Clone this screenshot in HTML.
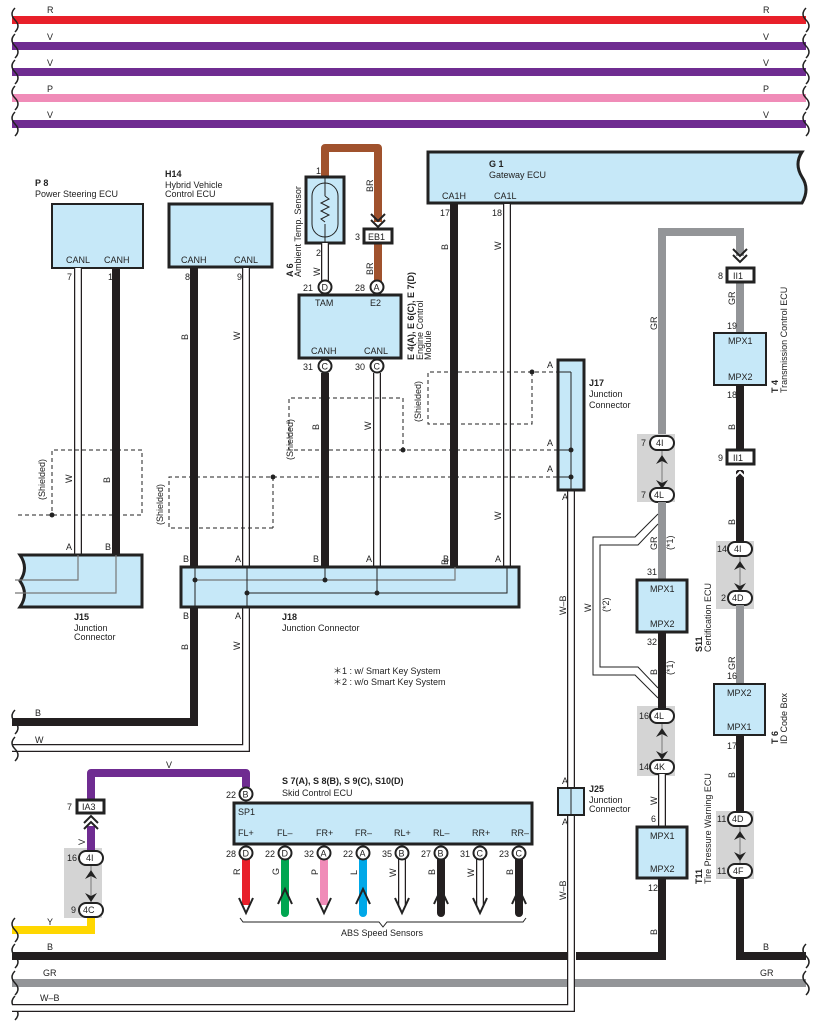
<!DOCTYPE html>
<html><head><meta charset="utf-8"><style>
html,body{margin:0;padding:0;background:#fff}
svg{display:block}
text{font-family:"Liberation Sans",sans-serif;font-size:9px;fill:#222}
.b{font-weight:bold}
.box{fill:#c6e8f8;stroke:#222;stroke-width:3}
.tb{fill:#c6e8f8;stroke:#222;stroke-width:2}
.pc{fill:#fff;stroke:#222;stroke-width:2}
.cap{fill:#fff;stroke:#222;stroke-width:2}
.gb{fill:#d4d4d4}
.dash{fill:none;stroke:#222;stroke-width:1;stroke-dasharray:4,3}
.blk{fill:none;stroke:#231f20;stroke-width:8}
.gr{fill:none;stroke:#939598;stroke-width:8}
.wo{fill:none;stroke:#231f20;stroke-width:8}
.wi{fill:none;stroke:#fff;stroke-width:5.5}
.sq{fill:none;stroke:#222;stroke-width:1.5}
</style></head><body>
<svg width="818" height="1030" viewBox="0 0 818 1030" xmlns="http://www.w3.org/2000/svg">
<!-- top buses -->
<line x1="12" y1="20" x2="806" y2="20" stroke="#e8202a" stroke-width="8"/>
<line x1="12" y1="46" x2="806" y2="46" stroke="#6f2c91" stroke-width="8"/>
<line x1="12" y1="72" x2="806" y2="72" stroke="#6f2c91" stroke-width="8"/>
<line x1="12" y1="98" x2="806" y2="98" stroke="#f08cb8" stroke-width="8"/>
<line x1="12" y1="124" x2="806" y2="124" stroke="#6f2c91" stroke-width="8"/>
<text x="47" y="13">R</text><text x="763" y="13">R</text>
<text x="47" y="40">V</text><text x="763" y="40">V</text>
<text x="47" y="66">V</text><text x="763" y="66">V</text>
<text x="47" y="92">P</text><text x="763" y="92">P</text>
<text x="47" y="118">V</text><text x="763" y="118">V</text>
<g class="sq">
<path d="M15,8 q-6,6 0,12 q6,6 0,12 M15,34 q-6,6 0,12 q6,6 0,12 M15,60 q-6,6 0,12 q6,6 0,12 M15,86 q-6,6 0,12 q6,6 0,12 M15,112 q-6,6 0,12 q6,6 0,12"/>
<path d="M806,8 q-6,6 0,12 q6,6 0,12 M806,34 q-6,6 0,12 q6,6 0,12 M806,60 q-6,6 0,12 q6,6 0,12 M806,86 q-6,6 0,12 q6,6 0,12 M806,112 q-6,6 0,12 q6,6 0,12"/>
</g>

<!-- bottom buses -->
<path class="blk" d="M12,956 L568,956"/>
<path class="blk" d="M576,956 L662,956 L662,878"/>
<path class="blk" d="M806,956 L740,956 L740,871"/>
<line x1="12" y1="983" x2="806" y2="983" stroke="#939598" stroke-width="8"/>
<text x="47" y="950">B</text><text x="763" y="950">B</text>
<text x="43" y="976">GR</text><text x="760" y="976">GR</text>
<text x="40" y="1001">W–B</text>
<path d="M12,930 L91,930 L91,912" fill="none" stroke="#ffd700" stroke-width="8"/>
<text x="47" y="925">Y</text>
<g class="sq">
<path d="M15,918 q-6,6 0,12 q6,6 0,12 M15,944 q-6,6 0,12 q6,6 0,12 M15,971 q-6,6 0,12 q6,6 0,12 M15,996 q-6,6 0,12 q6,6 0,12"/>
<path d="M806,944 q-6,6 0,12 q6,6 0,12 M806,971 q-6,6 0,12 q6,6 0,12"/>
</g>

<!-- W-B from J17 -->
<path class="wo" d="M571,490 L571,1008 L12,1008"/>
<path class="wi" d="M571,490 L571,1008 L12,1008"/>
<text transform="translate(566,615) rotate(-90)">W–B</text>
<text transform="translate(566,900) rotate(-90)">W–B</text>

<!-- P8 -->
<text class="b" x="35" y="186">P 8</text>
<text x="35" y="197">Power Steering ECU</text>
<rect class="tb" x="52" y="204" width="91" height="64"/>
<text x="66" y="263">CANL</text><text x="104" y="263">CANH</text>
<text x="67" y="280">7</text><text x="108" y="280">1</text>
<path class="wo" d="M78,268 L78,556"/><path class="wi" d="M78,268 L78,556"/>
<path class="blk" d="M116,268 L116,556"/>
<text transform="translate(72,483) rotate(-90)">W</text>
<text transform="translate(110,483) rotate(-90)">B</text>

<!-- H14 -->
<text class="b" x="165" y="177">H14</text>
<text x="165" y="188">Hybrid Vehicle</text>
<text x="165" y="197">Control ECU</text>
<rect class="box" x="169" y="204" width="103" height="63"/>
<text x="181" y="263">CANH</text><text x="234" y="263">CANL</text>
<text x="185" y="280">8</text><text x="237" y="280">9</text>
<path class="blk" d="M194,268 L194,722 L12,722"/>
<path class="wo" d="M246,268 L246,748 L12,748"/><path class="wi" d="M246,268 L246,748 L12,748"/>
<text transform="translate(188,340) rotate(-90)">B</text>
<text transform="translate(240,340) rotate(-90)">W</text>
<text transform="translate(188,650) rotate(-90)">B</text>
<text transform="translate(240,650) rotate(-90)">W</text>
<text x="35" y="716">B</text><text x="35" y="743">W</text>
<g class="sq"><path d="M15,710 q-6,6 0,12 q6,6 0,12 M15,737 q-6,6 0,12 q6,6 0,12"/></g>

<!-- A6 sensor -->
<path d="M325,196 L325,148 L378,148 L378,222" fill="none" stroke="#a0522d" stroke-width="8" stroke-linejoin="round"/>
<path d="M378,243 L378,282" fill="none" stroke="#a0522d" stroke-width="8"/>
<path d="M371,214 l7,7 l7,-7 M371,220 l7,7 l7,-7" fill="none" stroke="#222" stroke-width="2"/>
<rect x="364" y="229" width="28" height="14" fill="#fff" stroke="#222" stroke-width="3"/>
<text x="368" y="240">EB1</text><text x="355" y="240">3</text>
<text transform="translate(373,192) rotate(-90)">BR</text>
<text transform="translate(373,275) rotate(-90)">BR</text>
<rect class="box" x="306" y="177" width="38" height="66"/>
<rect x="312" y="183" width="26" height="54" rx="13" fill="none" stroke="#222" stroke-width="1"/>
<line x1="325" y1="177" x2="325" y2="196" stroke="#222"/>
<line x1="325" y1="224" x2="325" y2="243" stroke="#222"/>
<path d="M325,196 l4,3 l-8,4 l8,4 l-8,4 l8,4 l-8,4 l4,3" fill="none" stroke="#222" stroke-width="1"/>
<text x="316" y="174">1</text><text x="316" y="256">2</text>
<path class="wo" d="M325,243 L325,282"/><path class="wi" d="M325,243 L325,282"/>
<text transform="translate(320,276) rotate(-90)">W</text>
<text class="b" transform="translate(293,277) rotate(-90)">A 6</text>
<text transform="translate(301,277) rotate(-90)">Ambient Temp.   Sensor</text>

<!-- ECM -->
<rect class="box" x="299" y="295" width="102" height="63"/>
<circle class="pc" cx="325" cy="287" r="6.5"/><text x="321.5" y="290.5">D</text>
<circle class="pc" cx="377" cy="287" r="6.5"/><text x="373.5" y="290.5">A</text>
<text x="303" y="291">21</text><text x="355" y="291">28</text>
<text x="315" y="306">TAM</text><text x="370" y="306">E2</text>
<text x="311" y="354">CANH</text><text x="364" y="354">CANL</text>
<path class="blk" d="M325,373 L325,570"/>
<path class="wo" d="M377,373 L377,570"/><path class="wi" d="M377,373 L377,570"/>
<circle class="pc" cx="325" cy="366" r="6.5"/><text x="321.5" y="369.5">C</text>
<circle class="pc" cx="377" cy="366" r="6.5"/><text x="373.5" y="369.5">C</text>
<text x="303" y="370">31</text><text x="355" y="370">30</text>
<text transform="translate(319,430) rotate(-90)">B</text>
<text transform="translate(371,430) rotate(-90)">W</text>
<text class="b" transform="translate(414,360) rotate(-90)">E 4(A), E 6(C), E 7(D)</text>
<text transform="translate(423,360) rotate(-90)">Engine Control</text>
<text transform="translate(431,360) rotate(-90)">Module</text>

<!-- Gateway -->
<path class="box" d="M428,152 L802,152 q-8,12 0,25 q8,12 0,26 L428,203 Z"/>
<text class="b" x="489" y="167">G 1</text>
<text x="489" y="178">Gateway ECU</text>
<text x="442" y="199">CA1H</text><text x="494" y="199">CA1L</text>
<text x="440" y="216">17</text><text x="492" y="216">18</text>
<path class="blk" d="M454,204 L454,570"/>
<path class="wo" d="M507,204 L507,570"/><path class="wi" d="M507,204 L507,570"/>
<text transform="translate(448,250) rotate(-90)">B</text>
<text transform="translate(501,250) rotate(-90)">W</text>
<text transform="translate(448,565) rotate(-90)">B</text>
<text transform="translate(501,520) rotate(-90)">W</text>

<!-- shields -->
<path class="dash" d="M18,515 L142,515 L142,450 L52,450 L52,515"/>
<circle cx="52" cy="515" r="2.5" fill="#222"/>
<text transform="translate(45,500) rotate(-90)">(Shielded)</text>
<path class="dash" d="M273,528 L169,528 L169,477 L565,477"/>
<path class="dash" d="M273,477 L273,528"/>
<circle cx="273" cy="477" r="2.5" fill="#222"/>
<text transform="translate(163,525) rotate(-90)">(Shielded)</text>
<path class="dash" d="M403,450 L289,450 L289,398 L403,398 L403,450 L565,450"/>
<circle cx="403" cy="450" r="2.5" fill="#222"/>
<text transform="translate(293,460) rotate(-90)">(Shielded)</text>
<path class="dash" d="M532,372 L532,424 L428,424 L428,372 L565,372"/>
<circle cx="532" cy="372" r="2.5" fill="#222"/>
<text transform="translate(421,422) rotate(-90)">(Shielded)</text>

<!-- J17 -->
<rect class="box" x="558" y="360" width="26" height="130"/>
<line x1="571" y1="372" x2="571" y2="490" stroke="#222"/>
<line x1="558" y1="372" x2="571" y2="372" stroke="#222"/>
<circle cx="571" cy="450" r="2.5" fill="#222"/><circle cx="571" cy="477" r="2.5" fill="#222"/>
<line x1="558" y1="450" x2="571" y2="450" stroke="#222"/><line x1="558" y1="477" x2="571" y2="477" stroke="#222"/>
<text x="547" y="368">A</text><text x="547" y="446">A</text><text x="547" y="472">A</text><text x="562" y="500">A</text>
<text class="b" x="589" y="386">J17</text><text x="589" y="397">Junction</text><text x="589" y="408">Connector</text>

<!-- J25 -->
<rect class="tb" x="558" y="788" width="26" height="27"/>
<line x1="571" y1="788" x2="571" y2="815" stroke="#222"/>
<text x="562" y="784">A</text><text x="562" y="825">A</text>
<text class="b" x="589" y="792">J25</text><text x="589" y="803">Junction</text><text x="589" y="812">Connector</text>

<!-- J15 -->
<path class="box" d="M20,555 L142,555 L142,607 L20,607 q9,-13 0,-26 q9,-13 0,-26 Z"/>
<path d="M78,555 L78,580 L15,580 M116,555 L116,593 L15,593" fill="none" stroke="#777" stroke-width="1.2"/>
<text x="66" y="550">A</text><text x="105" y="550">B</text>
<text class="b" x="74" y="620">J15</text><text x="74" y="631">Junction</text><text x="74" y="640">Connector</text>

<!-- J18 -->
<rect class="box" x="181" y="567" width="338" height="40"/>
<path d="M195,580 L455,580 L455,567" fill="none" stroke="#777" stroke-width="1.2"/>
<path d="M247,593 L507,593 L507,567" fill="none" stroke="#222" stroke-width="1"/>
<line x1="195" y1="567" x2="195" y2="607" stroke="#222"/>
<line x1="247" y1="567" x2="247" y2="607" stroke="#222"/>
<line x1="325" y1="567" x2="325" y2="580" stroke="#222"/>
<line x1="377" y1="567" x2="377" y2="593" stroke="#222"/>
<circle cx="195" cy="580" r="2.5" fill="#222"/><circle cx="325" cy="580" r="2.5" fill="#222"/>
<circle cx="247" cy="593" r="2.5" fill="#222"/><circle cx="377" cy="593" r="2.5" fill="#222"/>
<text x="183" y="562">B</text><text x="235" y="562">A</text><text x="313" y="562">B</text><text x="366" y="562">A</text><text x="443" y="562">B</text><text x="495" y="562">A</text>
<text x="183" y="619">B</text><text x="235" y="619">A</text>
<text class="b" x="282" y="620">J18</text><text x="282" y="631">Junction Connector</text>
<text x="333" y="674">＊1 : w/ Smart Key System</text>
<text x="333" y="685">＊2 : w/o Smart Key System</text>

<!-- GR left chain -->
<path class="gr" d="M662,443 L662,232 L740,232 L740,256"/>
<path class="gr" d="M740,282 L740,333"/>
<path d="M733,249 l7,7 l7,-7 M733,255 l7,7 l7,-7" fill="none" stroke="#222" stroke-width="2"/>
<rect x="727" y="268" width="27" height="14" fill="#fff" stroke="#222" stroke-width="3"/>
<text x="733" y="279" fill="#777">II1</text><text x="718" y="279">8</text>
<text transform="translate(657,330) rotate(-90)">GR</text>
<text transform="translate(735,305) rotate(-90)">GR</text>
<text x="727" y="329">19</text>
<rect class="tb" x="714" y="333" width="52" height="52"/>
<text x="728" y="344">MPX1</text><text x="728" y="380">MPX2</text>
<text x="727" y="398">18</text>
<path class="blk" d="M740,385 L740,450"/>
<path class="blk" d="M740,470 L740,543"/>
<path d="M733,473 l7,-7 l7,7 M733,479 l7,-7 l7,7" fill="none" stroke="#fff" stroke-width="2"/>
<rect x="727" y="450" width="27" height="14" fill="#fff" stroke="#222" stroke-width="3"/>
<text x="733" y="461" fill="#777">II1</text><text x="718" y="461">9</text>
<text transform="translate(735,430) rotate(-90)">B</text>
<text transform="translate(735,525) rotate(-90)">B</text>
<text class="b" transform="translate(778,393) rotate(-90)">T 4</text>
<text transform="translate(787,393) rotate(-90)">Transmission Control ECU</text>

<!-- inline connector groups -->
<g>
<rect class="gb" x="637" y="434" width="38" height="68"/>
<rect class="gb" x="716" y="541" width="38" height="68"/>
<rect class="gb" x="637" y="706" width="38" height="70"/>
<rect class="gb" x="716" y="811" width="38" height="68"/>
<rect class="gb" x="64" y="848" width="38" height="70"/>
</g>
<!-- capsules and arrows -->
<g id="c1">
<line x1="662" y1="450" x2="662" y2="488" stroke="#777" stroke-width="1"/>
<path d="M656,464 l6,-9 l6,9 l-6,-3 Z M656,480 l6,9 l6,-9 l-6,3 Z" fill="#222"/>
<rect class="cap" x="650" y="436" width="24" height="14" rx="7"/><text x="656" y="446">4I</text>
<rect class="cap" x="650" y="488" width="24" height="14" rx="7"/><text x="654" y="498">4L</text>
<text x="641" y="446">7</text><text x="641" y="498">7</text>
</g>
<path class="gr" d="M662,502 L662,580"/>
<text x="647" y="575">31</text>
<rect class="box" x="637" y="580" width="50" height="52"/>
<text x="650" y="592">MPX1</text><text x="650" y="627">MPX2</text>
<text x="647" y="645">32</text>
<path class="blk" d="M662,632 L662,709"/>
<!-- bypass *2 -->
<path d="M658,514 L635,537 L593,537 L593,675 L635,675 L658,698" fill="none" stroke="#222" stroke-width="1"/>
<path d="M658,524 L638,545 L600,545 L600,667 L638,667 L658,688" fill="none" stroke="#222" stroke-width="1"/>
<text transform="translate(657,550) rotate(-90)">GR</text>
<text transform="translate(673,550) rotate(-90)">(*1)</text>
<text transform="translate(591,612) rotate(-90)">W</text>
<text transform="translate(609,612) rotate(-90)">(*2)</text>
<text transform="translate(657,675) rotate(-90)">B</text>
<text transform="translate(673,675) rotate(-90)">(*1)</text>
<text class="b" transform="translate(702,652) rotate(-90)">S11</text>
<text transform="translate(711,652) rotate(-90)">Certification ECU</text>

<line x1="662" y1="723" x2="662" y2="760" stroke="#777" stroke-width="1"/>
<path d="M656,737 l6,-9 l6,9 l-6,-3 Z M656,751 l6,9 l6,-9 l-6,3 Z" fill="#222"/>
<rect class="cap" x="650" y="709" width="24" height="14" rx="7"/><text x="654" y="719">4L</text>
<rect class="cap" x="650" y="760" width="24" height="14" rx="7"/><text x="654" y="770">4K</text>
<text x="639" y="719">16</text><text x="639" y="770">14</text>
<path class="wo" d="M662,774 L662,826"/><path class="wi" d="M662,774 L662,826"/>
<text transform="translate(657,805) rotate(-90)">W</text>
<text x="651" y="822">6</text>
<rect class="box" x="637" y="827" width="50" height="51"/>
<text x="650" y="839">MPX1</text><text x="650" y="872">MPX2</text>
<text x="648" y="891">12</text>
<text transform="translate(657,935) rotate(-90)">B</text>
<text class="b" transform="translate(702,884) rotate(-90)">T11</text>
<text transform="translate(711,884) rotate(-90)">Tire Pressure Warning ECU</text>

<!-- right chain lower -->
<line x1="740" y1="556" x2="740" y2="591" stroke="#777" stroke-width="1"/>
<path d="M734,570 l6,-9 l6,9 l-6,-3 Z M734,583 l6,9 l6,-9 l-6,3 Z" fill="#222"/>
<rect class="cap" x="728" y="542" width="24" height="14" rx="7"/><text x="734" y="552">4I</text>
<rect class="cap" x="728" y="591" width="24" height="14" rx="7"/><text x="732" y="601">4D</text>
<text x="717" y="552">14</text><text x="721" y="601">2</text>
<path class="gr" d="M740,605 L740,683"/>
<text transform="translate(735,670) rotate(-90)">GR</text>
<text x="727" y="679">16</text>
<rect class="tb" x="714" y="684" width="51" height="51"/>
<text x="727" y="696">MPX2</text><text x="727" y="730">MPX1</text>
<text x="727" y="749">17</text>
<path class="blk" d="M740,735 L740,813"/>
<text transform="translate(735,778) rotate(-90)">B</text>
<text class="b" transform="translate(778,744) rotate(-90)">T 6</text>
<text transform="translate(787,744) rotate(-90)">ID Code Box</text>
<line x1="740" y1="826" x2="740" y2="864" stroke="#777" stroke-width="1"/>
<path d="M734,840 l6,-9 l6,9 l-6,-3 Z M734,852 l6,9 l6,-9 l-6,3 Z" fill="#222"/>
<rect class="cap" x="728" y="812" width="24" height="14" rx="7"/><text x="732" y="822">4D</text>
<rect class="cap" x="728" y="864" width="24" height="14" rx="7"/><text x="733" y="874">4F</text>
<text x="717" y="822">11</text><text x="717" y="874">11</text>

<!-- V wire to skid ECU -->
<path d="M246,787 L246,773 L91,773 L91,800" fill="none" stroke="#6f2c91" stroke-width="8" stroke-linejoin="round"/>
<path d="M91,826 L91,851" fill="none" stroke="#6f2c91" stroke-width="8"/>
<path d="M84,829 l7,-7 l7,7 M84,823 l7,-7 l7,7" fill="none" stroke="#222" stroke-width="2"/>
<text x="166" y="768">V</text>
<text transform="translate(85,845) rotate(-90)">V</text>
<rect x="77" y="800" width="27" height="13" fill="#fff" stroke="#222" stroke-width="3"/>
<text x="82" y="810">IA3</text><text x="67" y="810">7</text>
<line x1="91" y1="865" x2="91" y2="903" stroke="#777" stroke-width="1"/>
<path d="M85,879 l6,-9 l6,9 l-6,-3 Z M85,893 l6,9 l6,-9 l-6,3 Z" fill="#222"/>
<rect class="cap" x="79" y="851" width="24" height="14" rx="7"/><text x="86" y="861">4I</text>
<rect class="cap" x="79" y="903" width="24" height="14" rx="7"/><text x="83" y="913">4C</text>
<text x="67" y="861">16</text><text x="71" y="913">9</text>

<!-- Skid ECU -->
<text class="b" x="282" y="784">S 7(A), S 8(B), S 9(C), S10(D)</text>
<text x="282" y="796">Skid Control ECU</text>
<circle class="pc" cx="246" cy="794" r="6.5"/><text x="242.5" y="797.5">B</text>
<text x="226" y="798">22</text>
<rect class="box" x="234" y="803" width="298" height="41"/>
<text x="238" y="815">SP1</text>
<text x="238" y="836">FL+</text><text x="277" y="836">FL–</text><text x="316" y="836">FR+</text><text x="355" y="836">FR–</text>
<text x="394" y="836">RL+</text><text x="433" y="836">RL–</text><text x="472" y="836">RR+</text><text x="511" y="836">RR–</text>
<!-- sensor wires -->
<path d="M246,858 L246,905" stroke="#e8202a" stroke-width="8"/>
<path d="M285,858 L285,913" stroke="#00a651" stroke-width="8" stroke-linecap="round"/>
<path d="M324,858 L324,905" stroke="#f08cb8" stroke-width="8"/>
<path d="M363,858 L363,913" stroke="#00a8e8" stroke-width="8" stroke-linecap="round"/>
<path class="wo" d="M402,858 L402,905"/><path class="wi" d="M402,858 L402,905"/>
<path d="M441,858 L441,913" stroke="#231f20" stroke-width="8" stroke-linecap="round"/>
<path class="wo" d="M480,858 L480,905"/><path class="wi" d="M480,858 L480,905"/>
<path d="M519,858 L519,913" stroke="#231f20" stroke-width="8" stroke-linecap="round"/>
<g fill="none" stroke="#222" stroke-width="2">
<path d="M239,898 L246,913 L253,898"/><path d="M395,898 L402,913 L409,898"/><path d="M473,898 L480,913 L487,898"/><path d="M317,898 L324,913 L331,898"/>
<path d="M278,904 L285,889 L292,904"/><path d="M356,904 L363,889 L370,904"/><path d="M434,904 L441,889 L448,904"/><path d="M512,904 L519,889 L526,904"/>
</g>
<g>
<circle class="pc" cx="246" cy="853" r="6.5"/><text x="242.5" y="856.5">D</text><text x="226" y="857">28</text>
<circle class="pc" cx="285" cy="853" r="6.5"/><text x="281.5" y="856.5">D</text><text x="265" y="857">22</text>
<circle class="pc" cx="324" cy="853" r="6.5"/><text x="320.5" y="856.5">A</text><text x="304" y="857">32</text>
<circle class="pc" cx="363" cy="853" r="6.5"/><text x="359.5" y="856.5">A</text><text x="343" y="857">22</text>
<circle class="pc" cx="402" cy="853" r="6.5"/><text x="398.5" y="856.5">B</text><text x="382" y="857">35</text>
<circle class="pc" cx="441" cy="853" r="6.5"/><text x="437.5" y="856.5">B</text><text x="421" y="857">27</text>
<circle class="pc" cx="480" cy="853" r="6.5"/><text x="476.5" y="856.5">C</text><text x="460" y="857">31</text>
<circle class="pc" cx="519" cy="853" r="6.5"/><text x="515.5" y="856.5">C</text><text x="499" y="857">23</text>
</g>
<text transform="translate(240,875) rotate(-90)">R</text>
<text transform="translate(279,875) rotate(-90)">G</text>
<text transform="translate(318,875) rotate(-90)">P</text>
<text transform="translate(357,875) rotate(-90)">L</text>
<text transform="translate(396,877) rotate(-90)">W</text>
<text transform="translate(435,875) rotate(-90)">B</text>
<text transform="translate(474,877) rotate(-90)">W</text>
<text transform="translate(513,875) rotate(-90)">B</text>
<path d="M240,918 L243,922 L379,922 L383,927 L387,922 L523,922 L526,918" fill="none" stroke="#222" stroke-width="1"/>
<text x="341" y="936">ABS Speed Sensors</text>
</svg>
</body></html>
